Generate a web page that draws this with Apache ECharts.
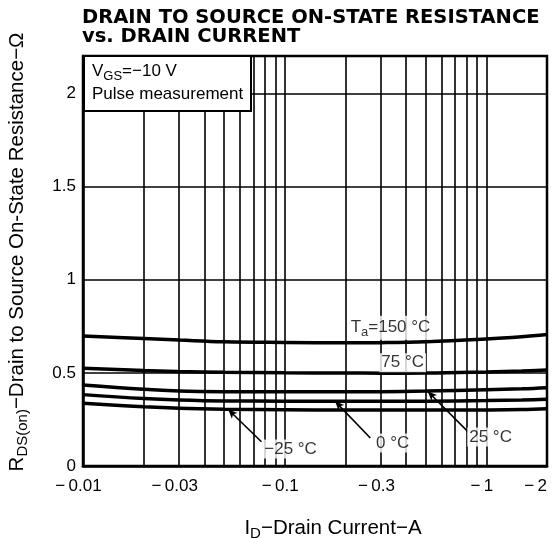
<!DOCTYPE html>
<html><head><meta charset="utf-8">
<script src="https://cdn.jsdelivr.net/npm/echarts@6/dist/echarts.min.js"></script>
<style>html,body{margin:0;padding:0;background:#fff}#c{width:558px;height:539px}</style>
</head><body><div id="c"></div>
<script>
// Drain current magnitude |ID| (A); axis shows them as negative values
const current = [0.01, 0.02, 0.03, 0.05, 0.1, 0.2, 0.3, 0.5, 1, 1.5, 2];
// RDS(on) (ohm) for each ambient temperature
const r150 = [0.698, 0.684, 0.676, 0.667, 0.663, 0.661, 0.662, 0.667, 0.682, 0.694, 0.705];
const r75  = [0.525, 0.512, 0.507, 0.503, 0.500, 0.499, 0.498, 0.499, 0.505, 0.510, 0.515];
const r25  = [0.435, 0.412, 0.403, 0.399, 0.398, 0.398, 0.399, 0.402, 0.409, 0.414, 0.420];
const r0   = [0.383, 0.362, 0.354, 0.349, 0.348, 0.347, 0.347, 0.348, 0.351, 0.354, 0.358];
const rm25 = [0.337, 0.318, 0.310, 0.305, 0.302, 0.300, 0.300, 0.300, 0.301, 0.303, 0.307];
const seriesNames = ['150', '75', '25', '0', '-25'];
const seriesValues = [r150, r75, r25, r0, rm25];

// axis ticks
const xTickValues = [0.01, 0.03, 0.1, 0.3, 1, 2];
const xGridValues = [0.02,0.03,0.04,0.05,0.06,0.07,0.08,0.09,0.1,0.2,0.3,0.4,0.5,0.6,0.7,0.8,0.9,1];
const yMin = 0, yMax = 2.2, yStep = 0.5;

// annotation texts (position in data units) and leader lines
const labelTexts = ['T{sub|a}=150 °C', '75 °C', '25 °C', '0 °C', '−25 °C'];
const labelPos = [[0.335, 0.742], [0.385, 0.554], [1.05, 0.156], [0.343, 0.124], [0.107, 0.091]];
const leaders = [
  [[0.0767, 0.13], [0.0525, 0.303]],
  [[0.266, 0.15], [0.178, 0.347]],
  [[0.813, 0.183], [0.513, 0.40]]
];

const FONT = '"Liberation Sans", Arial, sans-serif';
const fmtNum = v => String(Number(Number(v).toPrecision(3)));
const pair = (xs, ys) => xs.map((x, i) => [x, ys[i]]);
const xMax = xTickValues[xTickValues.length - 1];

const series = seriesValues.map((vals, i) => ({
  name: seriesNames[i], type: 'line', data: pair(current, vals),
  smooth: 0.4, showSymbol: false, symbol: 'none', silent: true, z: 3,
  lineStyle: { color: '#000', width: 3.5 }
}));
// vertical log grid lines
series.push({
  type: 'line', data: [], silent: true, z: 1,
  markLine: {
    silent: true, symbol: 'none', animation: false,
    label: { show: false },
    lineStyle: { color: '#000', width: 1.6, type: 'solid' },
    data: xGridValues.map(v => ({ xAxis: v }))
  }
});
// leader lines
series.push({
  type: 'line', data: [], silent: true, z: 4,
  markLine: {
    silent: true, symbol: ['none', 'arrow'], symbolSize: [6, 9], animation: false,
    label: { show: false },
    lineStyle: { color: '#000', width: 1.6, type: 'solid' },
    data: leaders.map(l => [{ coord: l[0] }, { coord: l[1] }])
  }
});
// annotation labels
series.push({
  type: 'scatter', symbolSize: 0, silent: true, z: 5,
  data: labelPos.map((p, i) => ({ value: p, label: { formatter: labelTexts[i] } })),
  label: {
    show: true, position: 'inside', color: '#000', fontFamily: FONT, fontSize: 17,
    backgroundColor: '#fff', padding: [1, 2],
    rich: { sub: { fontSize: 13, padding: [9, 0, 0, 0], fontFamily: FONT, color: '#000' } }
  }
});

const chart = echarts.init(document.getElementById('c'), null, { renderer: 'canvas' });
chart.setOption({
  animation: false,
  backgroundColor: '#fff',
  title: [{
    text: 'DRAIN TO SOURCE ON-STATE RESISTANCE\nvs. DRAIN CURRENT',
    left: 82, top: 8, padding: 0,
    textStyle: { fontFamily: '"DejaVu Sans", sans-serif', fontWeight: 'bold', fontSize: 19.5, lineHeight: 19, color: '#000' }
  }, {
    text: 'V{sub|GS}=−10 V\nPulse measurement',
    left: 84, top: 56, padding: [4, 8, 5, 8], z: 10,
    backgroundColor: '#fff', borderColor: '#000', borderWidth: 2,
    textStyle: {
      fontFamily: FONT, fontWeight: 'normal', fontSize: 17, lineHeight: 23, color: '#000',
      rich: { sub: { fontFamily: FONT, fontWeight: 'normal', fontSize: 13, padding: [9, 0, 0, 0], color: '#000' } }
    }
  }],
  grid: {
    left: 83, right: 11, top: 56, bottom: 73, containLabel: false, outerBoundsMode: 'none',
    show: true, borderColor: '#000', borderWidth: 2.5, backgroundColor: 'transparent'
  },
  xAxis: {
    type: 'log', logBase: 10, min: 0.01, max: 2,
    name: 'I{sub|D}−Drain Current−A', nameLocation: 'middle', nameGap: 50,
    nameTextStyle: {
      fontFamily: FONT, fontSize: 20.5, color: '#000', padding: [0, 0, 0, 36],
      rich: { sub: { fontFamily: FONT, fontSize: 15, padding: [10, 0, 0, 0], color: '#000' } }
    },
    axisLine: { show: true, lineStyle: { color: '#000', width: 2.5 } },
    axisTick: { show: false },
    splitLine: { show: false },
    minorTick: { show: false }, minorSplitLine: { show: false },
    axisLabel: {
      customValues: xTickValues, showMinLabel: true, showMaxLabel: true,
      alignMaxLabel: 'right',
      formatter: v => (Math.abs(v - xMax) < 1e-9 ? '{e|' : '{t|') + '−\u2009' + fmtNum(v) + '}',
      fontFamily: FONT, fontSize: 17, color: '#000', margin: 12,
      rich: {
        t: { fontFamily: FONT, fontSize: 17, color: '#000', padding: [0, 9, 0, 0] },
        e: { fontFamily: FONT, fontSize: 17, color: '#000' }
      }
    }
  },
  yAxis: {
    type: 'value', min: yMin, max: yMax, interval: yStep,
    name: 'R{sub|DS(on)}−Drain to Source On-State Resistance−Ω',
    nameLocation: 'middle', nameRotate: 90, nameGap: 53,
    nameTextStyle: {
      fontFamily: FONT, fontSize: 20.5, color: '#000', padding: [0, 0, 0, 18],
      rich: { sub: { fontFamily: FONT, fontSize: 15, padding: [10, 0, 0, 0], color: '#000' } }
    },
    axisLine: { show: true, lineStyle: { color: '#000', width: 2.5 } },
    axisTick: { show: false },
    splitLine: { show: true, lineStyle: { color: '#000', width: 1.6 } },
    axisLabel: {
      formatter: v => (Math.abs(v / yStep - Math.round(v / yStep)) < 1e-6 ? fmtNum(v) : ''),
      fontFamily: FONT, fontSize: 17, color: '#000', margin: 7
    }
  },
  series: series
});
</script></body></html>
